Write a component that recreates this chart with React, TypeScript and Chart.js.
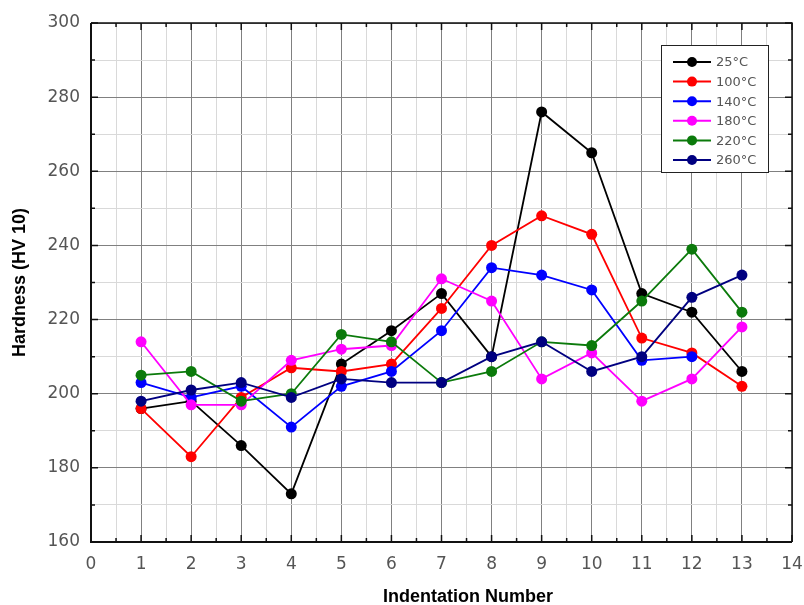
import React, { useEffect, useRef } from "react";
import { Chart, registerables } from "chart.js";

Chart.register(...registerables);

const indentation = [1, 2, 3, 4, 5, 6, 7, 8, 9, 10, 11, 12, 13];
const seriesLabels = ["25°C", "100°C", "140°C", "180°C", "220°C", "260°C"];
const seriesColors = ["#000000", "#ff0000", "#0000ff", "#ff00ff", "#0b7a0b", "#000080"];
const h25 = [196, 198, 186, 173, 208, 217, 227, 210, 276, 265, 227, 222, 206];
const h100 = [196, 183, 199, 207, 206, 208, 223, 240, 248, 243, 215, 211, 202];
const h140 = [203, 199, 202, 191, 202, 206, 217, 234, 232, 228, 209, 210];
const h180 = [214, 197, 197, 209, 212, 213, 231, 225, 204, 211, 198, 204, 218];
const h220 = [205, 206, 198, 200, 216, 214, 203, 206, 214, 213, 225, 239, 222];
const h260 = [198, 201, 203, 199, 204, 203, 203, 210, 214, 206, 210, 226, 232];
const xTickLabels = ["0", "1", "2", "3", "4", "5", "6", "7", "8", "9", "10", "11", "12", "13", "14"];
const yTickLabels = ["160", "180", "200", "220", "240", "260", "280", "300"];
const xTitle = "Indentation Number";
const yTitle = "Hardness (HV 10)";

const FONT = "'Liberation Sans', Arial, sans-serif";
const TICKFONT = "'DejaVu Sans', sans-serif";

const framePlugin = {
  id: "frame",
  afterDatasetsDraw(chart: any) {
    const { ctx, chartArea } = chart;
    const { left, right, top, bottom } = chartArea;
    const xs = chart.scales.x;
    const ys = chart.scales.y;
    ctx.save();
    ctx.strokeStyle = "#111";
    ctx.lineWidth = 1.5;
    for (let v = 0; v <= 14.001; v += 0.5) {
      const px = xs.getPixelForValue(v);
      const len = Number.isInteger(v) ? 7 : 4;
      ctx.beginPath();
      ctx.moveTo(px, bottom);
      ctx.lineTo(px, bottom - len);
      ctx.moveTo(px, top);
      ctx.lineTo(px, top + len);
      ctx.stroke();
    }
    for (let v = 160; v <= 300; v += 10) {
      const py = ys.getPixelForValue(v);
      const len = v % 20 === 0 ? 7 : 4;
      ctx.beginPath();
      ctx.moveTo(left, py);
      ctx.lineTo(left + len, py);
      ctx.moveTo(right, py);
      ctx.lineTo(right - len, py);
      ctx.stroke();
    }
    ctx.lineWidth = 2;
    ctx.beginPath();
    ctx.moveTo(left, top);
    ctx.lineTo(left, bottom);
    ctx.lineTo(right, bottom);
    ctx.stroke();
    ctx.lineWidth = 1.5;
    ctx.beginPath();
    ctx.moveTo(left, top);
    ctx.lineTo(right, top);
    ctx.lineTo(right, bottom);
    ctx.stroke();
    ctx.restore();
  },
  afterDraw(chart: any) {
    const { ctx } = chart;
    ctx.save();
    // x-axis title (offset to the right as in the original figure)
    ctx.fillStyle = "#000";
    ctx.font = `bold 18px ${FONT}`;
    ctx.textAlign = "center";
    ctx.textBaseline = "middle";
    ctx.fillText(xTitle, 468, 597);
    // legend
    const bx = 661, by = 45, bw = 107, bh = 127;
    ctx.textAlign = "left";
    ctx.fillStyle = "#fff";
    ctx.fillRect(bx, by, bw, bh);
    ctx.strokeStyle = "#222";
    ctx.lineWidth = 1;
    ctx.strokeRect(bx + 0.5, by + 0.5, bw, bh);
    ctx.font = `13px ${TICKFONT}`;
    chart.data.datasets.forEach((ds: any, i: number) => {
      const y = 62 + i * 19.6;
      ctx.strokeStyle = ds.borderColor;
      ctx.lineWidth = 2;
      ctx.beginPath();
      ctx.moveTo(673, y);
      ctx.lineTo(711, y);
      ctx.stroke();
      ctx.fillStyle = ds.backgroundColor;
      ctx.beginPath();
      ctx.arc(692, y, 5, 0, Math.PI * 2);
      ctx.fill();
      ctx.fillStyle = "#555";
      ctx.fillText(ds.label, 716, y + 1);
    });
    ctx.restore();
  },
};

export default function App() {
  const ref = useRef<HTMLCanvasElement>(null);
  useEffect(() => {
    document.body.style.margin = "0";
    const all = [h25, h100, h140, h180, h220, h260];
    const chart = new Chart(ref.current!, {
      type: "line",
      data: {
        datasets: all.map((arr, i) => ({
          label: seriesLabels[i],
          data: arr.map((v, j) => ({ x: indentation[j], y: v })),
          borderColor: seriesColors[i],
          backgroundColor: seriesColors[i],
          pointBackgroundColor: seriesColors[i],
          pointBorderColor: seriesColors[i],
          pointRadius: 5.5,
          pointBorderWidth: 0,
          borderWidth: 1.8,
          tension: 0,
          order: 5 - i,
        })),
      },
      options: {
        animation: false,
        responsive: false,
        layout: { padding: { left: 0, right: 12, top: 23, bottom: 0 } },
        plugins: { legend: { display: false }, tooltip: { enabled: false } },
        scales: {
          x: {
            type: "linear",
            min: 0,
            max: 14,
            afterFit: (s: any) => {
              s.height = 63;
              s.paddingLeft = 0;
              s.paddingRight = 0;
            },
            afterBuildTicks: (s: any) => {
              const t = [];
              for (let v = 0; v <= 14; v += 0.5) t.push({ value: v });
              s.ticks = t;
            },
            ticks: {
              autoSkip: false,
              maxRotation: 0,
              padding: 12,
              color: "#555",
              font: { family: TICKFONT, size: 17 },
              callback: (v: any) => (Number.isInteger(v) ? xTickLabels[v] : ""),
            },
            grid: {
              drawTicks: false,
              color: (c: any) => (Number.isInteger(c.tick?.value) ? "#808080" : "#d9d9d9"),
              lineWidth: 1,
            },
            border: { display: false },
            title: { display: false },
          },
          y: {
            type: "linear",
            min: 160,
            max: 300,
            afterFit: (s: any) => {
              s.width = 91;
              s.paddingTop = 0;
              s.paddingBottom = 0;
            },
            afterBuildTicks: (s: any) => {
              const t = [];
              for (let v = 160; v <= 300; v += 10) t.push({ value: v });
              s.ticks = t;
            },
            ticks: {
              autoSkip: false,
              padding: 11,
              color: "#555",
              font: { family: TICKFONT, size: 17 },
              callback: (v: any) => (v % 20 === 0 ? yTickLabels[(v - 160) / 20] : ""),
            },
            grid: {
              drawTicks: false,
              color: (c: any) => (c.tick?.value % 20 === 0 ? "#808080" : "#d9d9d9"),
              lineWidth: 1,
            },
            border: { display: false },
            title: {
              display: true,
              text: yTitle,
              color: "#000",
              font: { family: FONT, size: 18, weight: "bold", lineHeight: 1 },
              padding: { top: 11, bottom: 0 },
            },
          },
        },
      },
      plugins: [framePlugin],
    });
    return () => chart.destroy();
  }, []);
  return (
    <div style={{ position: "absolute", left: 0, top: 0, width: 804, height: 605, background: "#fff" }}>
      <canvas ref={ref} width={804} height={605} style={{ display: "block" }} />
    </div>
  );
}
